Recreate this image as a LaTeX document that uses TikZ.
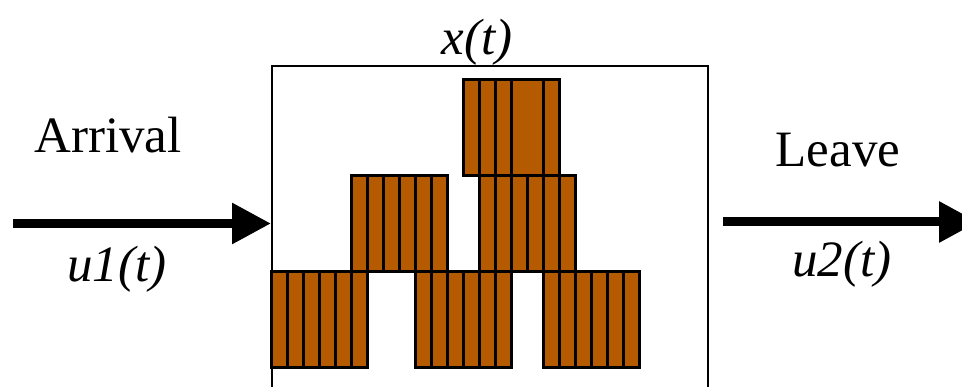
\documentclass[tikz,border=0pt]{standalone}
\usepackage{fontspec}
\setmainfont{Liberation Serif}
\usetikzlibrary{arrows.meta,positioning}
\definecolor{brick}{HTML}{B45A00}
\definecolor{ink}{HTML}{000000}

\begin{document}
\begin{tikzpicture}[x=1pt, y=-1pt,
  lbl/.style={font=\fontsize{51}{51}\selectfont, text=ink, inner sep=0pt, anchor=base},
  ilbl/.style={lbl, font=\fontsize{51}{51}\selectfont\itshape},
  flow/.style={draw=ink, line width=9, -{Triangle[length=39pt, width=39pt]}},
  slot/.style={draw=ink, fill=brick, line width=3},
]
\useasboundingbox (0,0) rectangle (962,387);
\clip (0,0) rectangle (962,387);
% ---- tank ----
\node[draw=ink, line width=2.2, minimum width=436, minimum height=340, anchor=north west, inner sep=0pt] (tank) at (271,65) {};
\node[ilbl] (state) at (477,55) {x(t)};
% ---- stacked cells ----
\foreach \bx/\by in {271/272, 415/272, 543/272, 351/176, 479/176}{
  \foreach \i in {0,...,5}{\draw[slot] (\bx+16*\i,\by) rectangle ++(16,96);}
}
\foreach \lx/\w in {463/16, 479/16, 495/16, 511/32, 543/16}{\draw[slot] (\lx,80) rectangle ++(\w,96);}
% ---- in / out ----
\coordinate (inS) at (13,223.5);
\coordinate (outS) at (723,222);
\coordinate (outE) at (978,222);
\draw[flow] (inS) -- (inS -| tank.west);
\draw[flow] (outS) -- (outE);
\node[lbl] (arrival) at (108,153) {Arrival};
\node[ilbl] (uin) at (117,282) {u1(t)};
\node[lbl] (leave) at (838,167) {Leave};
\node[ilbl] (uout) at (842,277) {u2(t)};
\end{tikzpicture}
\end{document}
